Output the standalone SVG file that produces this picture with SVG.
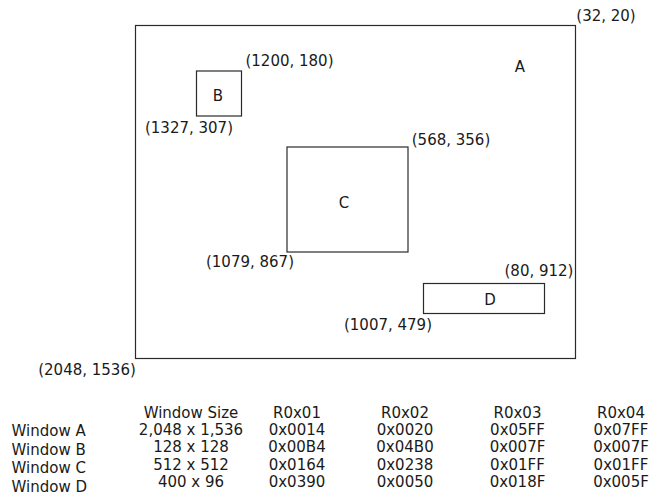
<svg xmlns="http://www.w3.org/2000/svg" width="652" height="504" viewBox="0 0 652 504">
<style>
text{font-family:"DejaVu Sans","Liberation Sans",sans-serif;font-size:15px;fill:#1a1a1a}
.m{text-anchor:middle}
.win{fill:none;stroke:#2a2a2a;stroke-width:1.2}
</style>
<rect width="652" height="504" fill="#fff"/>
<g id="windowA">
<rect class="win" x="135.5" y="25.5" width="440" height="333"/>
<text class="m" x="520" y="72">A</text>
<text class="m" x="606" y="21">(32, 20)</text>
<text class="m" x="87" y="375">(2048, 1536)</text>
</g>
<g id="windowB">
<rect class="win" x="196.5" y="71" width="45" height="45"/>
<text class="m" x="218" y="101">B</text>
<text class="m" x="289.5" y="66">(1200, 180)</text>
<text class="m" x="189" y="133">(1327, 307)</text>
</g>
<g id="windowC">
<rect class="win" x="287" y="147" width="121" height="105"/>
<text class="m" x="344" y="208">C</text>
<text class="m" x="451" y="145">(568, 356)</text>
<text class="m" x="250" y="267">(1079, 867)</text>
</g>
<g id="windowD">
<rect class="win" x="423.5" y="283.5" width="121" height="30"/>
<text class="m" x="490" y="305">D</text>
<text class="m" x="539" y="276">(80, 912)</text>
<text class="m" x="388" y="330">(1007, 479)</text>
</g>
<g id="connectors"></g>
<g id="table">
<text class="m" x="191" y="418">Window Size</text>
<text class="m" x="297" y="418">R0x01</text>
<text class="m" x="405" y="418">R0x02</text>
<text class="m" x="517.5" y="418">R0x03</text>
<text class="m" x="621" y="418">R0x04</text>
<text x="11.5" y="436">Window A</text>
<text x="11.5" y="455">Window B</text>
<text x="11.5" y="473">Window C</text>
<text x="11.5" y="492">Window D</text>
<text class="m" x="191" y="435">2,048 x 1,536</text>
<text class="m" x="297" y="435">0x0014</text>
<text class="m" x="405" y="435">0x0020</text>
<text class="m" x="517.5" y="435">0x05FF</text>
<text class="m" x="621" y="435">0x07FF</text>
<text class="m" x="191" y="452">128 x 128</text>
<text class="m" x="297" y="452">0x00B4</text>
<text class="m" x="405" y="452">0x04B0</text>
<text class="m" x="517.5" y="452">0x007F</text>
<text class="m" x="621" y="452">0x007F</text>
<text class="m" x="191" y="469.5">512 x 512</text>
<text class="m" x="297" y="469.5">0x0164</text>
<text class="m" x="405" y="469.5">0x0238</text>
<text class="m" x="517.5" y="469.5">0x01FF</text>
<text class="m" x="621" y="469.5">0x01FF</text>
<text class="m" x="191" y="487">400 x 96</text>
<text class="m" x="297" y="487">0x0390</text>
<text class="m" x="405" y="487">0x0050</text>
<text class="m" x="517.5" y="487">0x018F</text>
<text class="m" x="621" y="487">0x005F</text>
</g>
</svg>
